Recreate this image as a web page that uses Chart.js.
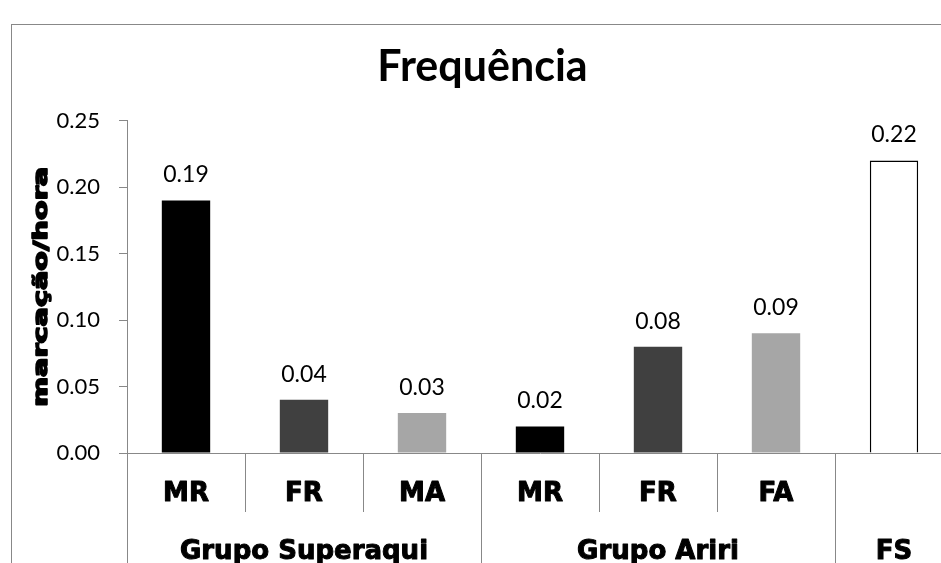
<!DOCTYPE html>
<html lang="pt">
<head>
  <meta charset="UTF-8">
  <title>Frequência</title>
  <script src="https://cdn.jsdelivr.net/npm/chart.js"></script>
  <style>
    html, body {
      margin: 0;
      padding: 0;
      width: 941px;
      height: 563px;
      overflow: hidden;
      background: #ffffff;
    }
    .frame {
      position: absolute;
      left: 11px;
      top: 24px;
      width: 960px;
      height: 600px;
      border: 1px solid #888888;
      background: #ffffff;
    }
    canvas { display: block; }
  </style>
</head>
<body>
  <div class="frame">
    <canvas id="freqChart" width="960" height="600"></canvas>
  </div>

  <script>
    const categories = ['MR', 'FR', 'MA', 'MR', 'FR', 'FA', ''];
    const values = [0.19, 0.04, 0.03, 0.02, 0.08, 0.09, 0.22];
    const groups = ['Grupo Superaqui', 'Grupo Ariri', 'FS'];
    const groupSizes = [3, 3, 1];
    const yTicks = [0, 0.05, 0.10, 0.15, 0.20, 0.25];

    const axisGray = '#888888';

    // heavy text: fill plus a thin stroke, to look like Arial Black
    function heavyText(ctx, text, x, y, w) {
      ctx.lineWidth = w;
      ctx.lineJoin = 'round';
      ctx.strokeStyle = '#000000';
      ctx.strokeText(text, x, y);
      ctx.fillText(text, x, y);
    }

    // category separators, labels, value labels, y title
    const decorations = {
      id: 'decorations',
      afterDraw(chart) {
        const ctx = chart.ctx;
        const x = chart.scales.x;
        const y = chart.scales.y;
        const axisY = y.getPixelForValue(0);
        const edge = i => i === 0 ? x.left : (x.getPixelForValue(i - 1) + x.getPixelForValue(i)) / 2;

        ctx.save();
        ctx.strokeStyle = axisGray;
        ctx.lineWidth = 1;

        // group starts get long lines, inner ones short
        const groupStarts = [0];
        groupSizes.forEach((n, i) => groupStarts.push(groupStarts[i] + n));
        for (let i = 0; i < categories.length; i++) {
          const px = Math.round(edge(i)) + 0.5;
          const long = groupStarts.includes(i);
          ctx.beginPath();
          ctx.moveTo(px, axisY);
          ctx.lineTo(px, long ? chart.height : axisY + 59);
          ctx.stroke();
        }

        ctx.fillStyle = '#000000';
        ctx.textAlign = 'center';
        ctx.textBaseline = 'middle';
        ctx.font = 'bold 26px "DejaVu Sans"';

        // category labels
        categories.forEach((c, i) => {
          heavyText(ctx, c, x.getPixelForValue(i), axisY + 41, 1);
        });

        // group labels
        groups.forEach((g, i) => {
          const a = edge(groupStarts[i]);
          const last = groupStarts[i + 1] - 1;
          const b = 2 * x.getPixelForValue(last) - edge(last);
          heavyText(ctx, g, (a + b) / 2, axisY + 99, 1);
        });

        // value labels above bars
        ctx.font = '23px Lato';
        ctx.textBaseline = 'alphabetic';
        chart.getDatasetMeta(0).data.forEach((bar, i) => {
          ctx.fillText(values[i].toFixed(2), bar.x, bar.y - 18);
        });

        // y axis title, wide heavy look
        const title = 'marcação/hora';
        ctx.font = 'bold 20px "DejaVu Sans"';
        const w = ctx.measureText(title).width;
        ctx.translate(28, (y.top + y.bottom) / 2);
        ctx.rotate(-Math.PI / 2);
        ctx.scale(240 / w, 1);
        ctx.textBaseline = 'middle';
        heavyText(ctx, title, 0, 2, 1.6);
        ctx.restore();
      }
    };

    new Chart(document.getElementById('freqChart'), {
      type: 'bar',
      data: {
        labels: categories,
        datasets: [{
          data: values,
          backgroundColor: ['#000000', '#404040', '#a6a6a6', '#000000', '#404040', '#a6a6a6', '#ffffff'],
          borderColor: '#000000',
          borderWidth: [0, 0, 0, 0, 0, 0, 1.5],
          categoryPercentage: 1,
          barPercentage: 0.41
        }]
      },
      options: {
        responsive: false,
        animation: false,
        layout: { padding: { right: 19 } },
        plugins: {
          legend: { display: false },
          tooltip: { enabled: false },
          title: {
            display: true,
            text: 'Frequência',
            color: '#000000',
            font: { family: 'Lato', size: 43, weight: 'bold' },
            padding: { top: 16, bottom: 28 }
          }
        },
        scales: {
          x: {
            afterFit(scale) { scale.height = 172; },
            grid: { drawOnChartArea: false, drawTicks: false },
            border: { color: axisGray, width: 1 },
            ticks: { display: false }
          },
          y: {
            min: 0,
            max: 0.25,
            afterFit(scale) { scale.width = 115; },
            afterBuildTicks(scale) { scale.ticks = yTicks.map(v => ({ value: v })); },
            grid: { drawOnChartArea: false, drawTicks: true, tickLength: 8, color: axisGray },
            border: { color: axisGray, width: 1 },
            ticks: {
              color: '#000000',
              padding: 19,
              font: { family: 'Lato', size: 22 },
              callback: v => v.toFixed(2)
            }
          }
        }
      },
      plugins: [decorations]
    });
  </script>
</body>
</html>
